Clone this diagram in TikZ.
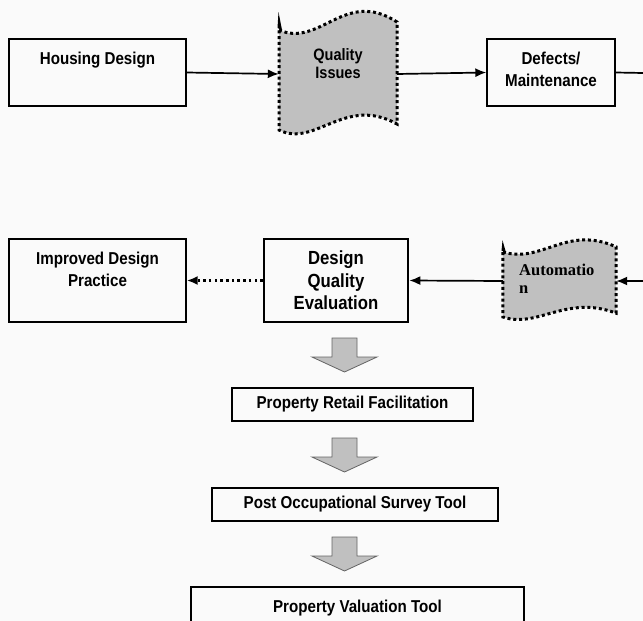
\documentclass[tikz,border=0pt]{standalone}
\usepackage{fontspec}
\setmainfont{Liberation Sans}[FakeStretch=0.88]
\newfontfamily\autofont{Liberation Serif}
\usetikzlibrary{positioning, arrows.meta, calc}

\definecolor{bgcol}{RGB}{250,250,250}
\definecolor{tapegray}{RGB}{192,192,192}
\definecolor{blockgray}{RGB}{192,192,192}
\definecolor{blockedge}{RGB}{100,100,100}

% wavy tape outline, drawn round a centre
\newcommand{\tapeshape}[3]{%
  \begin{scope}[shift={(#1)}, xscale=#2, yscale=#3]
    \draw[tapeline] (-59,-50) .. controls (-18,-32) and (7,-92) .. (59,-58)
      -- (59,44) .. controls (7,15) and (-23,68) .. (-59,50) -- cycle;
    \fill (-60.5,-52) -- (-59.5,-68) -- (-56,-50) -- cycle;
  \end{scope}}

\begin{document}
\begin{tikzpicture}[x=1pt, y=-1pt, >={Latex[length=11pt,width=9pt]},
    box/.style={draw, line width=1.4pt, fill=bgcol, inner sep=0pt,
      font=\fontsize{17.2}{22}\selectfont\bfseries, align=center},
    lbl/.style={inner sep=0pt, font=\fontsize{17.2}{22}\selectfont\bfseries, align=center},
    hold/.style={inner sep=0pt, minimum height=60pt},
    tapeline/.style={fill=tapegray, line width=3pt, dash pattern=on 3pt off 2.8pt},
    flow/.style={->, line width=1.7pt},
    dotflow/.style={->, line width=2.5pt, dash pattern=on 2.5pt off 3.2pt},
    blockarrow/.style={fill=blockgray, draw=blockedge, line width=0.8pt}]

    \path[use as bounding box, clip] (0,0) rectangle (643,621);
    \fill[bgcol] (0,0) rectangle (643,621);

    % --- top row ---
    \node[box, minimum width=177pt, minimum height=67pt] (hd) at (97.5,72.5) {};
    \node[lbl] (hdtxt) at (97.5,60) {Housing Design};

    \tapeshape{338,80}{1}{1}
    \node[hold, minimum width=118pt] (qi) at (338,74) {};
    \node[lbl, font=\fontsize{16.5}{18}\selectfont\bfseries] (qitxt) at (338,63.5) {Quality\\Issues};

    \node[box, minimum width=128pt, minimum height=67pt] (dm) at (551,72.5) {};
    \node[lbl] (dmtxt) at (551,69.5) {Defects/\\Maintenance};

    \coordinate (rtop) at (643,73);

    \draw[flow] (hd.east) -- (qi.west);
    \draw[flow] (qi.east) -- (dm.west);
    \draw[line width=1.7pt] (dm.east) -- (rtop);

    % --- second row ---
    \node[box, minimum width=177pt, minimum height=83pt] (idp) at (97.5,280.5) {};
    \node[lbl] (idptxt) at (97.5,269.5) {Improved Design\\Practice};

    \node[box, line width=2.6pt, minimum width=144pt, minimum height=83pt,
      font=\fontsize{19}{22.5}\selectfont\bfseries] (dqe) at (336,280.5) {Design\\Quality\\Evaluation};

    \tapeshape{559.5,284.5}{0.958}{0.65}
    \node[hold, minimum width=113pt] (auto) at (559.5,281) {};
    \node[inner sep=0pt, anchor=north west, align=left,
      font=\fontsize{16.5}{18}\selectfont\autofont\bfseries] (autotxt) at (519,264) {Automatio\\n};

    \coordinate (rbot) at (643,281);

    \draw[flow] (rbot) -- (auto.east);
    \draw[flow] (auto.west) -- (dqe.east);
    \draw[dotflow] (dqe.west) -- (idp.east);

    % --- down the column ---
    \foreach \y in {338,438,537}
        \filldraw[blockarrow] (332,\y) -- (357,\y) -- (357,\y+19) -- (377,\y+19)
            -- (344.5,\y+34) -- (312,\y+19) -- (332,\y+19) -- cycle;

    \node[box, minimum width=241pt, minimum height=33pt] (prf) at (352.5,404.5) {Property Retail Facilitation};
    \node[box, minimum width=286pt, minimum height=33pt] (post) at (355,504.5) {Post Occupational Survey Tool};
    \node[box, minimum width=333pt, minimum height=43pt] (pvt) at (357.5,608.5) {Property Valuation Tool};

\end{tikzpicture}
\end{document}
